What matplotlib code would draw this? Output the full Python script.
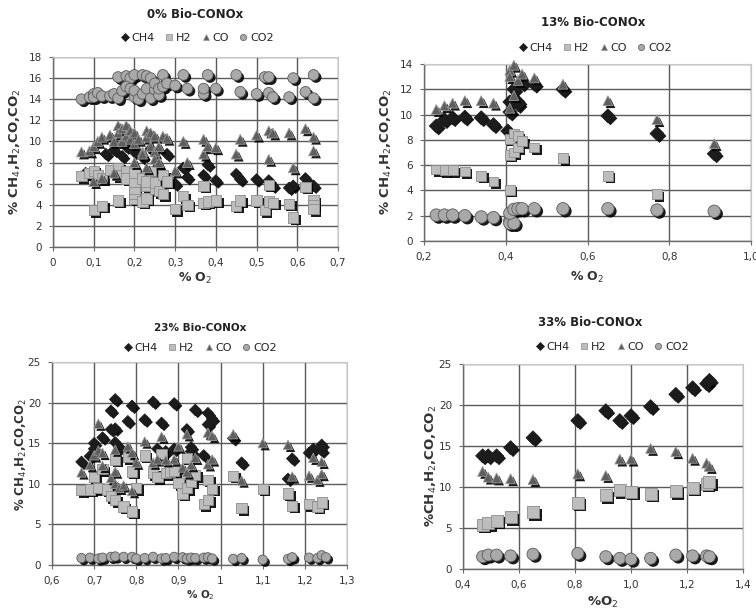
import matplotlib
matplotlib.use("Agg")
import matplotlib.pyplot as plt
import matplotlib.patheffects as pe
from matplotlib.lines import Line2D
from matplotlib.ticker import FuncFormatter, MultipleLocator

# ---------------- Data ----------------
series_names = ["CH4", "H2", "CO", "CO2"]
titles = ["0% Bio-CONOx", "13% Bio-CONOx", "23% Bio-CONOx", "33% Bio-CONOx"]

# Panel 1: 0% Bio-CONOx
p1_ch4_x = [0.08, 0.10, 0.13, 0.15, 0.17, 0.18, 0.20, 0.20, 0.22, 0.24, 0.26, 0.28, 0.28, 0.30, 0.32, 0.33,
            0.37, 0.38, 0.40, 0.45, 0.46, 0.50, 0.53, 0.54, 0.58, 0.59, 0.62, 0.64]
p1_ch4_y = [7.0, 6.5, 8.8, 9.2, 8.6, 9.5, 9.0, 6.8, 8.5, 9.3, 7.4, 8.8, 6.5, 6.0, 7.5, 6.6,
            6.8, 7.8, 6.3, 6.9, 6.4, 6.4, 6.3, 5.8, 5.6, 5.8, 6.5, 5.8]
p1_h2_x = [0.07, 0.09, 0.10, 0.10, 0.11, 0.12, 0.12, 0.14, 0.16, 0.16, 0.16, 0.18, 0.18, 0.20, 0.20, 0.20,
           0.20, 0.20, 0.22, 0.22, 0.23, 0.23, 0.23, 0.24, 0.25, 0.25, 0.26, 0.27, 0.27, 0.28, 0.30, 0.32,
           0.33, 0.37, 0.37, 0.38, 0.40, 0.45, 0.46, 0.50, 0.52, 0.53, 0.53, 0.54, 0.58, 0.59, 0.62, 0.64,
           0.64, 0.64]
p1_h2_y = [6.7, 7.0, 3.5, 7.2, 6.8, 3.9, 6.5, 7.3, 4.4, 7.5, 6.8, 7.2, 6.5, 4.6, 5.0, 5.5,
           6.2, 7.0, 4.3, 6.5, 4.6, 5.8, 6.2, 7.2, 5.5, 6.1, 5.3, 5.0, 6.8, 6.2, 3.6, 4.8,
           4.0, 4.2, 5.8, 4.3, 4.4, 3.9, 4.4, 4.4, 3.5, 4.3, 5.9, 4.2, 4.1, 2.8, 5.7, 4.4,
           4.0, 3.6]
p1_co_x = [0.07, 0.09, 0.10, 0.10, 0.11, 0.12, 0.12, 0.14, 0.15, 0.15, 0.16, 0.16, 0.17, 0.17, 0.18, 0.18,
           0.19, 0.19, 0.20, 0.20, 0.20, 0.21, 0.22, 0.22, 0.23, 0.23, 0.23, 0.24, 0.24, 0.25, 0.25, 0.25,
           0.26, 0.26, 0.27, 0.28, 0.30, 0.32, 0.33, 0.37, 0.37, 0.38, 0.40, 0.45, 0.46, 0.50, 0.53, 0.53,
           0.54, 0.58, 0.59, 0.62, 0.64, 0.64]
p1_co_y = [9.0, 9.1, 9.5, 6.2, 10.0, 10.4, 6.5, 10.6, 10.0, 7.0, 11.5, 10.8, 10.0, 11.2, 11.5, 10.5,
           11.0, 10.2, 10.8, 9.8, 8.0, 10.2, 9.0, 8.8, 11.0, 10.4, 7.5, 10.8, 9.5, 10.5, 9.0, 8.3,
           9.5, 8.0, 10.5, 10.3, 7.2, 10.0, 8.0, 10.2, 8.8, 9.5, 9.4, 8.8, 10.2, 10.6, 8.3, 11.0,
           10.8, 10.8, 7.5, 11.2, 10.4, 9.1]
p1_co2_x = [0.16, 0.18, 0.19, 0.20, 0.22, 0.23, 0.24, 0.27, 0.32, 0.38, 0.45, 0.52, 0.53, 0.59, 0.64,
            0.07, 0.09, 0.10, 0.10, 0.11, 0.12, 0.14, 0.15, 0.16, 0.17, 0.18, 0.19, 0.20, 0.20, 0.21,
            0.22, 0.23, 0.24, 0.25, 0.25, 0.26, 0.26, 0.27, 0.28, 0.30, 0.33, 0.37, 0.37, 0.40, 0.46,
            0.50, 0.53, 0.54, 0.58, 0.62, 0.64]
p1_co2_y = [16.1, 16.2, 16.0, 16.3, 16.3, 16.2, 16.0, 16.3, 16.3, 16.3, 16.3, 16.1, 16.1, 16.0, 16.3,
            14.0, 14.2, 14.5, 14.2, 14.6, 14.3, 14.3, 14.5, 14.1, 14.8, 15.2, 15.0, 14.2, 14.8, 14.0,
            14.5, 15.0, 14.1, 14.9, 15.5, 14.4, 15.0, 15.2, 15.5, 15.3, 15.0, 14.5, 15.0, 15.0, 14.7,
            14.5, 14.6, 14.2, 14.2, 14.7, 14.1]

# Panel 2: 13% Bio-CONOx
p2_ch4_x = [0.23, 0.25, 0.27, 0.30, 0.34, 0.37, 0.405, 0.41, 0.41, 0.42, 0.42, 0.43, 0.43, 0.44, 0.47, 0.54,
            0.65, 0.77, 0.91]
p2_ch4_y = [9.1, 9.6, 9.75, 9.8, 9.75, 9.2, 8.7, 10.2, 11.0, 12.0, 11.2, 10.8, 11.0, 12.5, 12.4, 12.0,
            9.9, 8.5, 6.9]
p2_h2_x = [0.23, 0.25, 0.27, 0.30, 0.34, 0.37, 0.41, 0.41, 0.41, 0.42, 0.42, 0.43, 0.43, 0.44, 0.47, 0.54,
           0.65, 0.77]
p2_h2_y = [5.65, 5.6, 5.6, 5.5, 5.15, 4.7, 4.05, 6.8, 8.1, 7.0, 8.5, 8.3, 7.4, 7.9, 7.4, 6.55,
           5.15, 3.7]
p2_co_x = [0.23, 0.25, 0.27, 0.30, 0.34, 0.37, 0.41, 0.41, 0.41, 0.42, 0.42, 0.43, 0.44, 0.47, 0.54,
           0.65, 0.77, 0.91]
p2_co_y = [10.4, 10.7, 10.9, 11.1, 11.1, 10.9, 13.5, 13.0, 10.5, 13.9, 11.5, 12.7, 13.2, 12.9, 12.4,
           11.1, 9.6, 7.7]
p2_co2_x = [0.23, 0.25, 0.27, 0.30, 0.34, 0.37, 0.41, 0.41, 0.42, 0.41, 0.42, 0.43, 0.44, 0.47, 0.54,
            0.65, 0.77, 0.91]
p2_co2_y = [2.05, 2.05, 2.05, 2.0, 1.9, 1.85, 1.6, 1.4, 1.4, 2.2, 2.5, 2.55, 2.55, 2.55, 2.55,
            2.55, 2.45, 2.35]

# Panel 3: 23% Bio-CONOx
p3_ch4_x = [0.67, 0.69, 0.70, 0.70, 0.72, 0.74, 0.74, 0.75, 0.75, 0.75, 0.76, 0.78, 0.79, 0.82, 0.84, 0.85,
            0.86, 0.87, 0.89, 0.89, 0.92, 0.93, 0.93, 0.94, 0.96, 0.97, 0.97, 0.98, 1.03, 1.05, 1.16, 1.17,
            1.21, 1.22, 1.24, 1.24]
p3_ch4_y = [12.7, 13.4, 15.0, 14.3, 15.7, 16.7, 19.0, 20.4, 16.8, 15.1, 14.5, 17.7, 19.6, 17.9, 20.1, 14.3,
            17.5, 14.0, 19.9, 14.3, 16.7, 14.5, 14.0, 19.1, 13.5, 18.7, 17.3, 18.0, 15.6, 12.6, 10.6, 13.1,
            13.8, 14.3, 14.8, 14.1]
p3_h2_x = [0.67, 0.69, 0.70, 0.71, 0.72, 0.73, 0.74, 0.75, 0.75, 0.77, 0.78, 0.79, 0.79, 0.80, 0.82, 0.84,
           0.85, 0.86, 0.87, 0.88, 0.89, 0.90, 0.91, 0.92, 0.92, 0.93, 0.94, 0.96, 0.97, 0.97, 0.98, 1.03,
           1.05, 1.10, 1.16, 1.17, 1.21, 1.23, 1.24]
p3_h2_y = [9.2, 9.3, 10.8, 9.5, 11.8, 9.3, 8.5, 13.0, 8.0, 7.2, 13.3, 11.5, 6.6, 9.5, 13.5, 11.3,
           10.8, 13.7, 11.3, 11.5, 11.6, 10.1, 8.8, 13.2, 9.5, 10.3, 11.1, 7.5, 8.0, 10.5, 9.4, 11.0,
           7.0, 9.4, 8.8, 7.3, 7.5, 7.2, 7.7]
p3_co_x = [0.67, 0.69, 0.70, 0.71, 0.71, 0.72, 0.72, 0.74, 0.75, 0.75, 0.75, 0.76, 0.77, 0.78, 0.79, 0.79,
           0.80, 0.82, 0.84, 0.85, 0.86, 0.87, 0.89, 0.90, 0.91, 0.92, 0.92, 0.93, 0.94, 0.97, 0.97, 0.98,
           0.98, 1.03, 1.05, 1.10, 1.16, 1.17, 1.21, 1.22, 1.23, 1.24, 1.24]
p3_co_y = [11.4, 12.3, 13.5, 17.4, 14.1, 12.2, 13.8, 10.7, 11.5, 14.2, 10.0, 9.5, 9.8, 14.6, 13.8, 9.1,
           12.6, 15.2, 12.6, 13.0, 15.8, 12.9, 13.0, 14.6, 12.0, 16.1, 11.4, 12.3, 13.2, 16.3, 12.4, 13.0,
           15.9, 16.1, 10.4, 15.0, 14.8, 10.9, 11.0, 13.2, 10.5, 12.7, 11.2]
p3_co2_x = [0.67, 0.69, 0.71, 0.72, 0.74, 0.75, 0.77, 0.79, 0.80, 0.82, 0.84, 0.86, 0.87, 0.89, 0.91,
            0.92, 0.93, 0.94, 0.96, 0.97, 0.98, 1.03, 1.05, 1.10, 1.16, 1.17, 1.21, 1.23, 1.24, 1.25]
p3_co2_y = [0.85, 0.9, 0.8, 0.9, 1.0, 1.05, 1.0, 1.0, 0.8, 0.85, 1.0, 0.8, 0.85, 1.0, 0.95,
            0.8, 0.9, 0.85, 0.9, 0.95, 0.8, 0.75, 0.85, 0.65, 0.75, 0.95, 0.9, 0.85, 1.2, 0.95]

# Panel 4: 33% Bio-CONOx
p4_x = [0.47, 0.49, 0.52, 0.57, 0.65, 0.81, 0.91, 0.96, 1.00, 1.07, 1.16, 1.22, 1.27, 1.28]
p4_ch4_y = [13.8, 13.8, 13.8, 14.8, 16.0, 18.1, 19.3, 18.1, 18.7, 19.8, 21.3, 22.1, 22.6, 23.0]
p4_h2_y = [5.4, 5.6, 5.9, 6.3, 6.9, 8.1, 9.0, 9.6, 9.4, 9.2, 9.5, 9.9, 10.4, 10.6]
p4_co_y = [11.9, 11.2, 11.1, 11.0, 10.9, 11.6, 11.4, 13.4, 13.4, 14.7, 14.3, 13.5, 12.9, 12.5]
p4_co2_y = [1.5, 1.7, 1.7, 1.6, 1.8, 1.9, 1.5, 1.3, 1.2, 1.3, 1.7, 1.6, 1.6, 1.5]

# ---------------- Styling ----------------
W, H = 756, 610
fig = plt.figure(figsize=(W / 100, H / 100), dpi=100)
plt.rcParams['font.family'] = ['DejaVu Sans']

styles = {
    "CH4": dict(marker="D", fc="#1c1c1c", ec="#1c1c1c"),
    "H2": dict(marker="s", fc="#bdbdbd", ec="#8c8c8c"),
    "CO": dict(marker="^", fc="#5e5e5e", ec="#9a9a9a"),
    "CO2": dict(marker="o", fc="#a9a9a9", ec="#5a5a5a"),
}
shadow = [pe.SimplePatchShadow(offset=(1.8, -1.8), shadow_rgbFace="black", alpha=0.9), pe.Normal()]


def px_rect(l, t, r, b):
    return [l / W, 1 - b / H, (r - l) / W, (b - t) / H]


def fmt_g(v, pos):
    return ("%g" % round(v, 3)).replace(".", ",")


def fmt_1(v, pos):
    return ("%.1f" % v).replace(".", ",")


panels = [
    dict(rect=px_rect(53, 57, 338, 247), xlim=(0, 0.7), ylim=(0, 18), xstep=0.1, ystep=2, fmt=fmt_g,
         data=[(p1_ch4_x, p1_ch4_y), (p1_h2_x, p1_h2_y), (p1_co_x, p1_co_y), (p1_co2_x, p1_co2_y)],
         sizes=[34, 55, 50, 60],
         title_xy=(195, 15), leg_xy=(197, 38), xl_xy=(195, 278), yl_xy=(15, 152),
         ylabel="% CH$_4$,H$_2$,CO,CO$_2$", xlabel="% O$_2$", yl_fs=9.5, xl_fs=9, title_fs=8.5),
    dict(rect=px_rect(424, 64, 751, 241), xlim=(0.2, 1.0), ylim=(0, 14), xstep=0.2, ystep=2, fmt=fmt_1,
         data=[(p2_ch4_x, p2_ch4_y), (p2_h2_x, p2_h2_y), (p2_co_x, p2_co_y), (p2_co2_x, p2_co2_y)],
         sizes=[50, 50, 50, 80],
         title_xy=(593, 22), leg_xy=(595, 48), xl_xy=(587, 277), yl_xy=(386, 152),
         ylabel="% CH$_4$,H$_2$,CO,CO$_2$", xlabel="% O$_2$", yl_fs=9.5, xl_fs=9, title_fs=8.5),
    dict(rect=px_rect(52, 362, 347, 565), xlim=(0.6, 1.3), ylim=(0, 25), xstep=0.1, ystep=5, fmt=fmt_g,
         data=[(p3_ch4_x, p3_ch4_y), (p3_h2_x, p3_h2_y), (p3_co_x, p3_co_y), (p3_co2_x, p3_co2_y)],
         sizes=[34, 55, 45, 45],
         title_xy=(200, 328), leg_xy=(200, 348), xl_xy=(200, 595), yl_xy=(21, 455),
         ylabel="% CH$_4$,H$_2$,CO,CO$_2$", xlabel="% O$_2$", yl_fs=8.5, xl_fs=7.5, title_fs=7.5),
    dict(rect=px_rect(463, 364, 743, 569), xlim=(0.4, 1.4), ylim=(0, 25), xstep=0.2, ystep=5, fmt=fmt_1,
         data=[(p4_x, p4_ch4_y), (p4_x, p4_h2_y), (p4_x, p4_co_y), (p4_x, p4_co2_y)],
         sizes=[50, 75, 50, 75],
         title_xy=(590, 323), leg_xy=(612, 347), xl_xy=(603, 602), yl_xy=(431, 466),
         ylabel="%CH$_4$,H$_2$,CO,CO$_2$", xlabel="%O$_2$", yl_fs=9.5, xl_fs=9.5, title_fs=8.5),
]

for i, p in enumerate(panels):
    ax = fig.add_axes(p["rect"])
    for name, (xs, ys), s in zip(series_names, p["data"], p["sizes"]):
        st = styles[name]
        sc = ax.scatter(xs, ys, s=s, marker=st["marker"], c=st["fc"], edgecolors=st["ec"],
                        linewidths=0.6, zorder=3, clip_on=False)
        sc.set_path_effects(shadow)
    ax.set_xlim(*p["xlim"])
    ax.set_ylim(*p["ylim"])
    ax.xaxis.set_major_locator(MultipleLocator(p["xstep"]))
    ax.yaxis.set_major_locator(MultipleLocator(p["ystep"]))
    ax.xaxis.set_major_formatter(FuncFormatter(p["fmt"]))
    ax.yaxis.set_major_formatter(FuncFormatter(fmt_g))
    ax.grid(True, color="#5a5a5a", linewidth=1.0, zorder=1)
    ax.set_axisbelow(True)
    for side in ["top", "right"]:
        ax.spines[side].set_color("#c8c8c8")
        ax.spines[side].set_linewidth(0.8)
    for side in ["left", "bottom"]:
        ax.spines[side].set_color("#6a6a6a")
        ax.spines[side].set_linewidth(1.0)
    ax.tick_params(axis="both", labelsize=7.5, length=3, width=0.8, pad=5,
                   colors="#6a6a6a", labelcolor="#333333")

    fig.text(p["title_xy"][0] / W, 1 - p["title_xy"][1] / H, titles[i], ha="center", va="center",
             fontsize=p["title_fs"], fontweight="bold", color="#222222")
    fig.text(p["xl_xy"][0] / W, 1 - p["xl_xy"][1] / H, p["xlabel"], ha="center", va="center",
             fontsize=p["xl_fs"], fontweight="bold", color="#333333")
    fig.text(p["yl_xy"][0] / W, 1 - p["yl_xy"][1] / H, p["ylabel"], ha="center", va="center",
             rotation=90, fontsize=p["yl_fs"], fontweight="bold", color="#333333")

    handles = [Line2D([], [], linestyle="none", marker=styles[n]["marker"], markersize=4.5,
                      markerfacecolor=styles[n]["fc"], markeredgecolor=styles[n]["ec"], markeredgewidth=0.5)
               for n in series_names]
    fig.legend(handles, series_names, loc="center",
               bbox_to_anchor=(p["leg_xy"][0] / W, 1 - p["leg_xy"][1] / H),
               ncol=4, frameon=False, fontsize=8, handletextpad=0.2, columnspacing=0.9,
               handlelength=0.8, borderpad=0.1, labelcolor="#222222")

fig.savefig("out.png", dpi=100)
